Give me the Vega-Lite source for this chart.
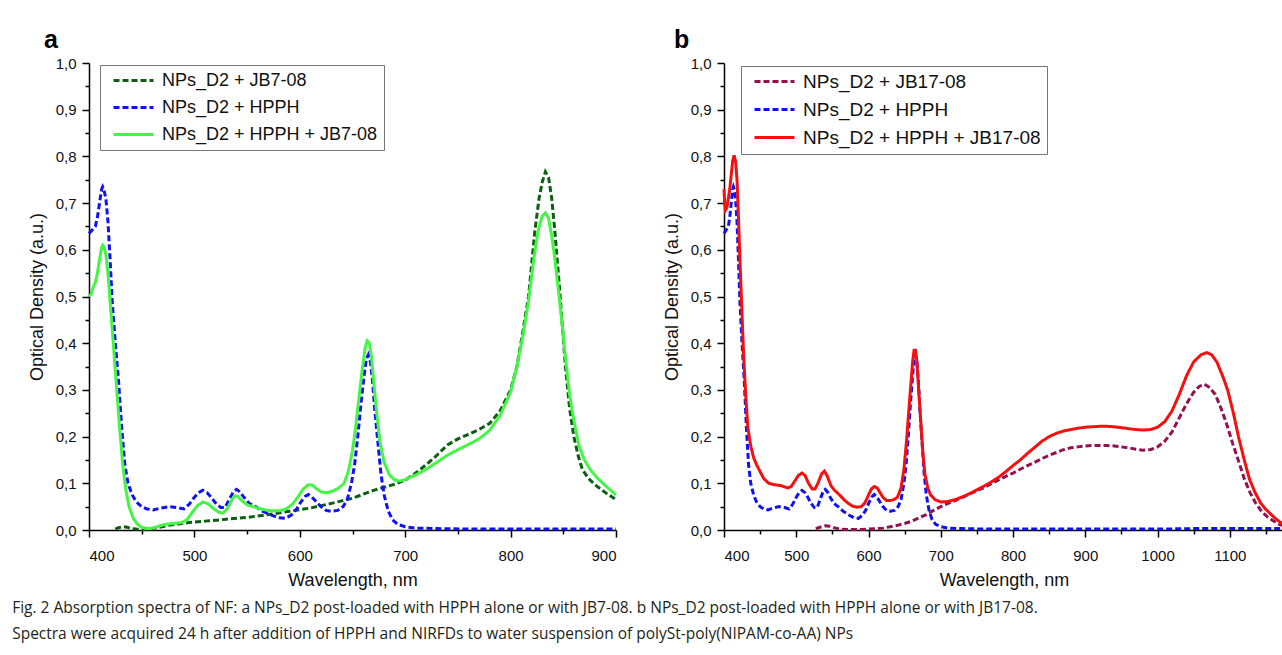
{
  "$schema": "https://vega.github.io/schema/vega-lite/v6.json",
  "background": "white",
  "padding": {"left": 12, "top": 28, "right": 0, "bottom": 5},
  "datasets": {
    "hpph": [
      {"nm":400,"od":0.635},{"nm":402,"od":0.64},{"nm":404,"od":0.645},{"nm":406,"od":0.65},{"nm":408,"od":0.67},{"nm":410,"od":0.70},{"nm":412,"od":0.73},{"nm":413,"od":0.735},{"nm":414,"od":0.73},{"nm":416,"od":0.71},{"nm":418,"od":0.66},{"nm":420,"od":0.58},{"nm":422,"od":0.49},{"nm":425,"od":0.40},{"nm":428,"od":0.32},{"nm":431,"od":0.22},{"nm":434,"od":0.14},{"nm":437,"od":0.10},{"nm":441,"od":0.075},{"nm":445,"od":0.06},{"nm":450,"od":0.05},{"nm":455,"od":0.045},{"nm":461,"od":0.043},{"nm":468,"od":0.047},{"nm":476,"od":0.05},{"nm":484,"od":0.048},{"nm":490,"od":0.045},{"nm":495,"od":0.055},{"nm":500,"od":0.07},{"nm":504,"od":0.08},{"nm":508,"od":0.085},{"nm":512,"od":0.08},{"nm":516,"od":0.07},{"nm":520,"od":0.058},{"nm":525,"od":0.048},{"nm":529,"od":0.048},{"nm":533,"od":0.065},{"nm":537,"od":0.082},{"nm":540,"od":0.087},{"nm":543,"od":0.082},{"nm":547,"od":0.07},{"nm":552,"od":0.057},{"nm":558,"od":0.05},{"nm":565,"od":0.04},{"nm":572,"od":0.033},{"nm":580,"od":0.026},{"nm":586,"od":0.025},{"nm":592,"od":0.032},{"nm":597,"od":0.045},{"nm":601,"od":0.06},{"nm":605,"od":0.072},{"nm":608,"od":0.076},{"nm":611,"od":0.072},{"nm":615,"od":0.062},{"nm":620,"od":0.05},{"nm":625,"od":0.042},{"nm":630,"od":0.04},{"nm":636,"od":0.042},{"nm":641,"od":0.05},{"nm":645,"od":0.065},{"nm":649,"od":0.1},{"nm":652,"od":0.14},{"nm":655,"od":0.2},{"nm":658,"od":0.27},{"nm":661,"od":0.33},{"nm":663,"od":0.365},{"nm":665,"od":0.375},{"nm":667,"od":0.36},{"nm":669,"od":0.32},{"nm":671,"od":0.26},{"nm":674,"od":0.19},{"nm":677,"od":0.12},{"nm":680,"od":0.075},{"nm":684,"od":0.04},{"nm":688,"od":0.022},{"nm":693,"od":0.012},{"nm":700,"od":0.007},{"nm":710,"od":0.004},{"nm":730,"od":0.003},{"nm":760,"od":0.002},{"nm":800,"od":0.002},{"nm":850,"od":0.002},{"nm":900,"od":0.002},{"nm":950,"od":0.002},{"nm":1000,"od":0.002},{"nm":1050,"od":0.003},{"nm":1100,"od":0.003},{"nm":1150,"od":0.003},{"nm":1175,"od":0.003}
    ],
    "jb7": [
      {"nm":425,"od":0.002},{"nm":428,"od":0.005},{"nm":432,"od":0.007},{"nm":436,"od":0.006},{"nm":440,"od":0.003},{"nm":445,"od":0.002},{"nm":452,"od":0.001},{"nm":458,"od":0.002},{"nm":465,"od":0.005},{"nm":475,"od":0.01},{"nm":485,"od":0.013},{"nm":495,"od":0.016},{"nm":510,"od":0.019},{"nm":530,"od":0.023},{"nm":550,"od":0.027},{"nm":570,"od":0.033},{"nm":590,"od":0.04},{"nm":610,"od":0.047},{"nm":630,"od":0.057},{"nm":650,"od":0.068},{"nm":670,"od":0.085},{"nm":690,"od":0.098},{"nm":700,"od":0.107},{"nm":710,"od":0.122},{"nm":720,"od":0.14},{"nm":730,"od":0.16},{"nm":740,"od":0.182},{"nm":750,"od":0.195},{"nm":760,"od":0.205},{"nm":770,"od":0.215},{"nm":780,"od":0.228},{"nm":790,"od":0.255},{"nm":800,"od":0.3},{"nm":806,"od":0.35},{"nm":812,"od":0.43},{"nm":817,"od":0.5},{"nm":823,"od":0.64},{"nm":827,"od":0.71},{"nm":830,"od":0.745},{"nm":833,"od":0.767},{"nm":836,"od":0.755},{"nm":839,"od":0.71},{"nm":842,"od":0.64},{"nm":846,"od":0.53},{"nm":849,"od":0.44},{"nm":852,"od":0.35},{"nm":856,"od":0.26},{"nm":860,"od":0.2},{"nm":864,"od":0.16},{"nm":868,"od":0.13},{"nm":874,"od":0.11},{"nm":880,"od":0.097},{"nm":890,"od":0.08},{"nm":900,"od":0.065}
    ],
    "mix7": [
      {"nm":400,"od":0.50},{"nm":402,"od":0.505},{"nm":404,"od":0.52},{"nm":406,"od":0.53},{"nm":408,"od":0.55},{"nm":410,"od":0.58},{"nm":412,"od":0.605},{"nm":413,"od":0.61},{"nm":414,"od":0.607},{"nm":416,"od":0.59},{"nm":418,"od":0.55},{"nm":420,"od":0.49},{"nm":423,"od":0.40},{"nm":426,"od":0.31},{"nm":429,"od":0.22},{"nm":432,"od":0.14},{"nm":435,"od":0.085},{"nm":438,"od":0.05},{"nm":442,"od":0.025},{"nm":446,"od":0.012},{"nm":450,"od":0.006},{"nm":455,"od":0.003},{"nm":460,"od":0.004},{"nm":466,"od":0.008},{"nm":472,"od":0.012},{"nm":480,"od":0.014},{"nm":488,"od":0.016},{"nm":493,"od":0.022},{"nm":498,"od":0.038},{"nm":503,"od":0.052},{"nm":508,"od":0.06},{"nm":513,"od":0.056},{"nm":518,"od":0.046},{"nm":523,"od":0.038},{"nm":527,"od":0.036},{"nm":531,"od":0.045},{"nm":535,"od":0.062},{"nm":538,"od":0.073},{"nm":541,"od":0.072},{"nm":545,"od":0.063},{"nm":550,"od":0.054},{"nm":557,"od":0.049},{"nm":565,"od":0.044},{"nm":573,"od":0.041},{"nm":580,"od":0.041},{"nm":587,"od":0.045},{"nm":593,"od":0.055},{"nm":598,"od":0.07},{"nm":603,"od":0.087},{"nm":608,"od":0.097},{"nm":612,"od":0.096},{"nm":616,"od":0.088},{"nm":621,"od":0.081},{"nm":626,"od":0.08},{"nm":631,"od":0.083},{"nm":637,"od":0.09},{"nm":642,"od":0.1},{"nm":646,"od":0.125},{"nm":650,"od":0.17},{"nm":653,"od":0.22},{"nm":656,"od":0.28},{"nm":659,"od":0.34},{"nm":662,"od":0.39},{"nm":664,"od":0.405},{"nm":666,"od":0.4},{"nm":668,"od":0.37},{"nm":670,"od":0.32},{"nm":673,"od":0.25},{"nm":676,"od":0.19},{"nm":680,"od":0.145},{"nm":685,"od":0.118},{"nm":690,"od":0.107},{"nm":695,"od":0.105},{"nm":700,"od":0.108},{"nm":710,"od":0.118},{"nm":720,"od":0.13},{"nm":730,"od":0.145},{"nm":740,"od":0.16},{"nm":750,"od":0.172},{"nm":760,"od":0.183},{"nm":770,"od":0.195},{"nm":780,"od":0.213},{"nm":790,"od":0.245},{"nm":800,"od":0.295},{"nm":806,"od":0.35},{"nm":812,"od":0.42},{"nm":817,"od":0.49},{"nm":822,"od":0.58},{"nm":826,"od":0.64},{"nm":830,"od":0.672},{"nm":833,"od":0.679},{"nm":836,"od":0.668},{"nm":839,"od":0.63},{"nm":842,"od":0.58},{"nm":845,"od":0.52},{"nm":848,"od":0.46},{"nm":852,"od":0.37},{"nm":856,"od":0.29},{"nm":860,"od":0.235},{"nm":865,"od":0.18},{"nm":870,"od":0.15},{"nm":876,"od":0.128},{"nm":882,"od":0.112},{"nm":890,"od":0.095},{"nm":900,"od":0.075}
    ],
    "jb17": [
      {"nm":527,"od":0.003},{"nm":533,"od":0.006},{"nm":540,"od":0.009},{"nm":546,"od":0.008},{"nm":552,"od":0.005},{"nm":560,"od":0.002},{"nm":570,"od":0.001},{"nm":580,"od":0.001},{"nm":590,"od":0.001},{"nm":600,"od":0.002},{"nm":610,"od":0.003},{"nm":620,"od":0.004},{"nm":630,"od":0.007},{"nm":640,"od":0.01},{"nm":650,"od":0.014},{"nm":660,"od":0.019},{"nm":670,"od":0.026},{"nm":680,"od":0.033},{"nm":690,"od":0.042},{"nm":700,"od":0.05},{"nm":710,"od":0.057},{"nm":720,"od":0.063},{"nm":730,"od":0.07},{"nm":740,"od":0.077},{"nm":750,"od":0.084},{"nm":760,"od":0.091},{"nm":770,"od":0.099},{"nm":780,"od":0.107},{"nm":790,"od":0.115},{"nm":800,"od":0.122},{"nm":810,"od":0.13},{"nm":820,"od":0.138},{"nm":830,"od":0.145},{"nm":840,"od":0.153},{"nm":850,"od":0.16},{"nm":860,"od":0.166},{"nm":870,"od":0.172},{"nm":880,"od":0.176},{"nm":890,"od":0.178},{"nm":900,"od":0.18},{"nm":910,"od":0.181},{"nm":920,"od":0.181},{"nm":930,"od":0.181},{"nm":940,"od":0.18},{"nm":950,"od":0.178},{"nm":960,"od":0.176},{"nm":970,"od":0.173},{"nm":980,"od":0.171},{"nm":990,"od":0.172},{"nm":1000,"od":0.178},{"nm":1010,"od":0.19},{"nm":1020,"od":0.21},{"nm":1030,"od":0.24},{"nm":1040,"od":0.27},{"nm":1050,"od":0.295},{"nm":1058,"od":0.308},{"nm":1065,"od":0.312},{"nm":1072,"od":0.305},{"nm":1080,"od":0.29},{"nm":1088,"od":0.26},{"nm":1096,"od":0.225},{"nm":1104,"od":0.185},{"nm":1112,"od":0.148},{"nm":1120,"od":0.11},{"nm":1128,"od":0.08},{"nm":1136,"od":0.057},{"nm":1144,"od":0.04},{"nm":1152,"od":0.028},{"nm":1160,"od":0.02},{"nm":1168,"od":0.012},{"nm":1175,"od":0.009}
    ],
    "mix17": [
      {"nm":400,"od":0.73},{"nm":401,"od":0.70},{"nm":402,"od":0.685},{"nm":404,"od":0.69},{"nm":406,"od":0.71},{"nm":408,"od":0.73},{"nm":410,"od":0.76},{"nm":412,"od":0.79},{"nm":414,"od":0.802},{"nm":416,"od":0.79},{"nm":418,"od":0.75},{"nm":420,"od":0.67},{"nm":422,"od":0.58},{"nm":424,"od":0.5},{"nm":427,"od":0.38},{"nm":430,"od":0.29},{"nm":433,"od":0.22},{"nm":437,"od":0.18},{"nm":441,"od":0.155},{"nm":445,"od":0.14},{"nm":450,"od":0.125},{"nm":455,"od":0.11},{"nm":462,"od":0.1},{"nm":470,"od":0.097},{"nm":479,"od":0.095},{"nm":488,"od":0.09},{"nm":493,"od":0.093},{"nm":498,"od":0.105},{"nm":503,"od":0.117},{"nm":508,"od":0.122},{"nm":512,"od":0.117},{"nm":517,"od":0.1},{"nm":522,"od":0.088},{"nm":526,"od":0.088},{"nm":530,"od":0.1},{"nm":535,"od":0.12},{"nm":539,"od":0.126},{"nm":543,"od":0.115},{"nm":548,"od":0.095},{"nm":553,"od":0.085},{"nm":560,"od":0.075},{"nm":566,"od":0.065},{"nm":572,"od":0.057},{"nm":578,"od":0.051},{"nm":584,"od":0.049},{"nm":590,"od":0.05},{"nm":595,"od":0.058},{"nm":600,"od":0.075},{"nm":604,"od":0.088},{"nm":608,"od":0.093},{"nm":612,"od":0.09},{"nm":616,"od":0.08},{"nm":620,"od":0.07},{"nm":625,"od":0.063},{"nm":630,"od":0.063},{"nm":635,"od":0.065},{"nm":640,"od":0.07},{"nm":645,"od":0.09},{"nm":649,"od":0.13},{"nm":652,"od":0.18},{"nm":655,"od":0.24},{"nm":658,"od":0.3},{"nm":661,"od":0.36},{"nm":663,"od":0.385},{"nm":665,"od":0.385},{"nm":667,"od":0.36},{"nm":669,"od":0.31},{"nm":672,"od":0.24},{"nm":675,"od":0.17},{"nm":678,"od":0.12},{"nm":682,"od":0.09},{"nm":686,"od":0.075},{"nm":692,"od":0.065},{"nm":700,"od":0.06},{"nm":710,"od":0.061},{"nm":720,"od":0.065},{"nm":730,"od":0.071},{"nm":740,"od":0.078},{"nm":750,"od":0.086},{"nm":760,"od":0.094},{"nm":770,"od":0.103},{"nm":780,"od":0.113},{"nm":790,"od":0.125},{"nm":800,"od":0.138},{"nm":810,"od":0.15},{"nm":820,"od":0.164},{"nm":830,"od":0.177},{"nm":840,"od":0.19},{"nm":850,"od":0.2},{"nm":860,"od":0.207},{"nm":870,"od":0.212},{"nm":880,"od":0.215},{"nm":890,"od":0.218},{"nm":900,"od":0.22},{"nm":910,"od":0.221},{"nm":920,"od":0.222},{"nm":930,"od":0.222},{"nm":940,"od":0.221},{"nm":950,"od":0.219},{"nm":960,"od":0.217},{"nm":970,"od":0.215},{"nm":980,"od":0.214},{"nm":990,"od":0.215},{"nm":1000,"od":0.22},{"nm":1010,"od":0.232},{"nm":1020,"od":0.255},{"nm":1030,"od":0.29},{"nm":1040,"od":0.33},{"nm":1050,"od":0.36},{"nm":1060,"od":0.375},{"nm":1068,"od":0.38},{"nm":1075,"od":0.375},{"nm":1082,"od":0.36},{"nm":1090,"od":0.33},{"nm":1097,"od":0.3},{"nm":1105,"od":0.25},{"nm":1112,"od":0.2},{"nm":1120,"od":0.15},{"nm":1127,"od":0.11},{"nm":1135,"od":0.08},{"nm":1143,"od":0.057},{"nm":1150,"od":0.044},{"nm":1158,"od":0.032},{"nm":1165,"od":0.022},{"nm":1175,"od":0.011}
    ]
  },
  "title": {
    "text": ["Fig. 2  Absorption spectra of NF: a NPs_D2 post-loaded with HPPH alone or with JB7-08. b NPs_D2 post-loaded with HPPH alone or with JB17-08.", "Spectra were acquired 24 h after addition of HPPH and NIRFDs to water suspension of polySt-poly(NIPAM-co-AA) NPs"],
    "orient": "bottom", "anchor": "start", "frame": "bounds", "dx": -16,
    "font": "Open Sans", "fontSize": 15.5, "fontWeight": "normal", "color": "#231f20",
    "lineHeight": 26, "offset": 12
  },
  "spacing": 108,
  "bounds": "flush",
  "resolve": {
    "scale": {"color": "independent", "strokeDash": "independent", "x": "independent", "y": "independent"},
    "legend": {"color": "independent", "strokeDash": "independent"}
  },
  "hconcat": [
    {
      "width": 527, "height": 467,
      "title": {"text": "a", "anchor": "start", "frame": "group", "dx": -45, "fontSize": 25, "fontWeight": "bold", "font": "Liberation Sans", "color": "black", "offset": 3},
      "encoding": {
        "x": {"field": "nm", "type": "quantitative",
          "scale": {"domain": [400, 900], "nice": false, "zero": false},
          "axis": {"title": "Wavelength, nm",
            "values": [400,450,500,550,600,650,700,750,800,850,900],
            "labelExpr": "datum.value % 100 == 0 ? datum.value : ''",
            "tickSize": {"condition": {"test": "datum.value % 100 == 0", "value": 7}, "value": 4}}},
        "y": {"field": "od", "type": "quantitative",
          "scale": {"domain": [0, 1], "nice": false},
          "axis": {"title": "Optical Density (a.u.)",
            "values": [0,0.05,0.1,0.15,0.2,0.25,0.3,0.35,0.4,0.45,0.5,0.55,0.6,0.65,0.7,0.75,0.8,0.85,0.9,0.95,1],
            "labelExpr": "abs(datum.value*10 - round(datum.value*10)) < 0.001 ? replace(format(datum.value, '.1f'), '.', ',') : ''",
            "tickSize": {"condition": {"test": "abs(datum.value*10 - round(datum.value*10)) < 0.001", "value": 7}, "value": 4}}}
      },
      "layer": [
        {"data": {"name": "jb7"}, "mark": {"type": "line", "strokeWidth": 3},
         "encoding": {
           "color": {"datum": "NPs_D2 + JB7-08", "type": "nominal",
             "scale": {"domain": ["NPs_D2 + JB7-08", "NPs_D2 + HPPH", "NPs_D2 + HPPH + JB7-08"], "range": ["#0b5e12", "#1010f5", "#45f545"]},
             "legend": {"orient": "none", "legendX": 11, "legendY": 2}},
           "strokeDash": {"datum": "NPs_D2 + JB7-08", "type": "nominal",
             "scale": {"domain": ["NPs_D2 + JB7-08", "NPs_D2 + HPPH", "NPs_D2 + HPPH + JB7-08"], "range": [[6,3],[6,3],[1,0]]},
             "legend": {"orient": "none", "legendX": 11, "legendY": 2}}}},
        {"data": {"name": "hpph"}, "transform": [{"filter": "datum.nm <= 900"}], "mark": {"type": "line", "strokeWidth": 3},
         "encoding": {"color": {"datum": "NPs_D2 + HPPH", "type": "nominal"}, "strokeDash": {"datum": "NPs_D2 + HPPH", "type": "nominal"}}},
        {"data": {"name": "mix7"}, "mark": {"type": "line", "strokeWidth": 3},
         "encoding": {"color": {"datum": "NPs_D2 + HPPH + JB7-08", "type": "nominal"}, "strokeDash": {"datum": "NPs_D2 + HPPH + JB7-08", "type": "nominal"}}}
      ]
    },
    {
      "width": 560, "height": 467,
      "title": {"text": "b", "anchor": "start", "frame": "group", "dx": -50, "fontSize": 25, "fontWeight": "bold", "font": "Liberation Sans", "color": "black", "offset": 3},
      "encoding": {
        "x": {"field": "nm", "type": "quantitative",
          "scale": {"domain": [400, 1175], "nice": false, "zero": false},
          "axis": {"title": "Wavelength, nm",
            "values": [400,450,500,550,600,650,700,750,800,850,900,950,1000,1050,1100,1150],
            "labelExpr": "datum.value % 100 == 0 ? datum.value : ''",
            "tickSize": {"condition": {"test": "datum.value % 100 == 0", "value": 7}, "value": 4}}},
        "y": {"field": "od", "type": "quantitative",
          "scale": {"domain": [0, 1], "nice": false},
          "axis": {"title": "Optical Density (a.u.)",
            "values": [0,0.05,0.1,0.15,0.2,0.25,0.3,0.35,0.4,0.45,0.5,0.55,0.6,0.65,0.7,0.75,0.8,0.85,0.9,0.95,1],
            "labelExpr": "abs(datum.value*10 - round(datum.value*10)) < 0.001 ? replace(format(datum.value, '.1f'), '.', ',') : ''",
            "tickSize": {"condition": {"test": "abs(datum.value*10 - round(datum.value*10)) < 0.001", "value": 7}, "value": 4}}}
      },
      "layer": [
        {"data": {"name": "jb17"}, "mark": {"type": "line", "strokeWidth": 3},
         "encoding": {
           "color": {"datum": "NPs_D2 + JB17-08", "type": "nominal",
             "scale": {"domain": ["NPs_D2 + JB17-08", "NPs_D2 + HPPH", "NPs_D2 + HPPH + JB17-08"], "range": ["#94104f", "#1010f5", "#f51010"]},
             "legend": {"orient": "none", "legendX": 17, "legendY": 3, "labelFontSize": 19}},
           "strokeDash": {"datum": "NPs_D2 + JB17-08", "type": "nominal",
             "scale": {"domain": ["NPs_D2 + JB17-08", "NPs_D2 + HPPH", "NPs_D2 + HPPH + JB17-08"], "range": [[6,3],[6,3],[1,0]]},
             "legend": {"orient": "none", "legendX": 17, "legendY": 3, "labelFontSize": 19}}}},
        {"data": {"name": "hpph"}, "mark": {"type": "line", "strokeWidth": 3},
         "encoding": {"color": {"datum": "NPs_D2 + HPPH", "type": "nominal"}, "strokeDash": {"datum": "NPs_D2 + HPPH", "type": "nominal"}}},
        {"data": {"name": "mix17"}, "mark": {"type": "line", "strokeWidth": 3},
         "encoding": {"color": {"datum": "NPs_D2 + HPPH + JB17-08", "type": "nominal"}, "strokeDash": {"datum": "NPs_D2 + HPPH + JB17-08", "type": "nominal"}}}
      ]
    }
  ],
  "config": {
    "view": {"stroke": null},
    "axis": {
      "grid": false, "domainColor": "black", "domainWidth": 1.5, "tickColor": "black", "tickWidth": 1.5,
      "labelFont": "Liberation Sans", "labelFontSize": 15, "labelColor": "#111111",
      "titleFont": "Liberation Sans", "titleFontSize": 18, "titleFontWeight": "normal", "titleColor": "#111111"
    },
    "axisX": {"titlePadding": 8, "labelPadding": 11},
    "axisY": {"titlePadding": 9, "labelPadding": 6},
    "legend": {
      "title": null, "strokeColor": "#777777", "padding": 6,
      "symbolType": "M-0.25,0H4.75", "symbolSize": 256, "symbolStrokeWidth": 3,
      "labelFont": "Liberation Sans", "labelFontSize": 18, "labelColor": "#111111",
      "labelOffset": 37, "rowPadding": 8, "labelLimit": 500, "fillColor": "white"
    }
  }
}
